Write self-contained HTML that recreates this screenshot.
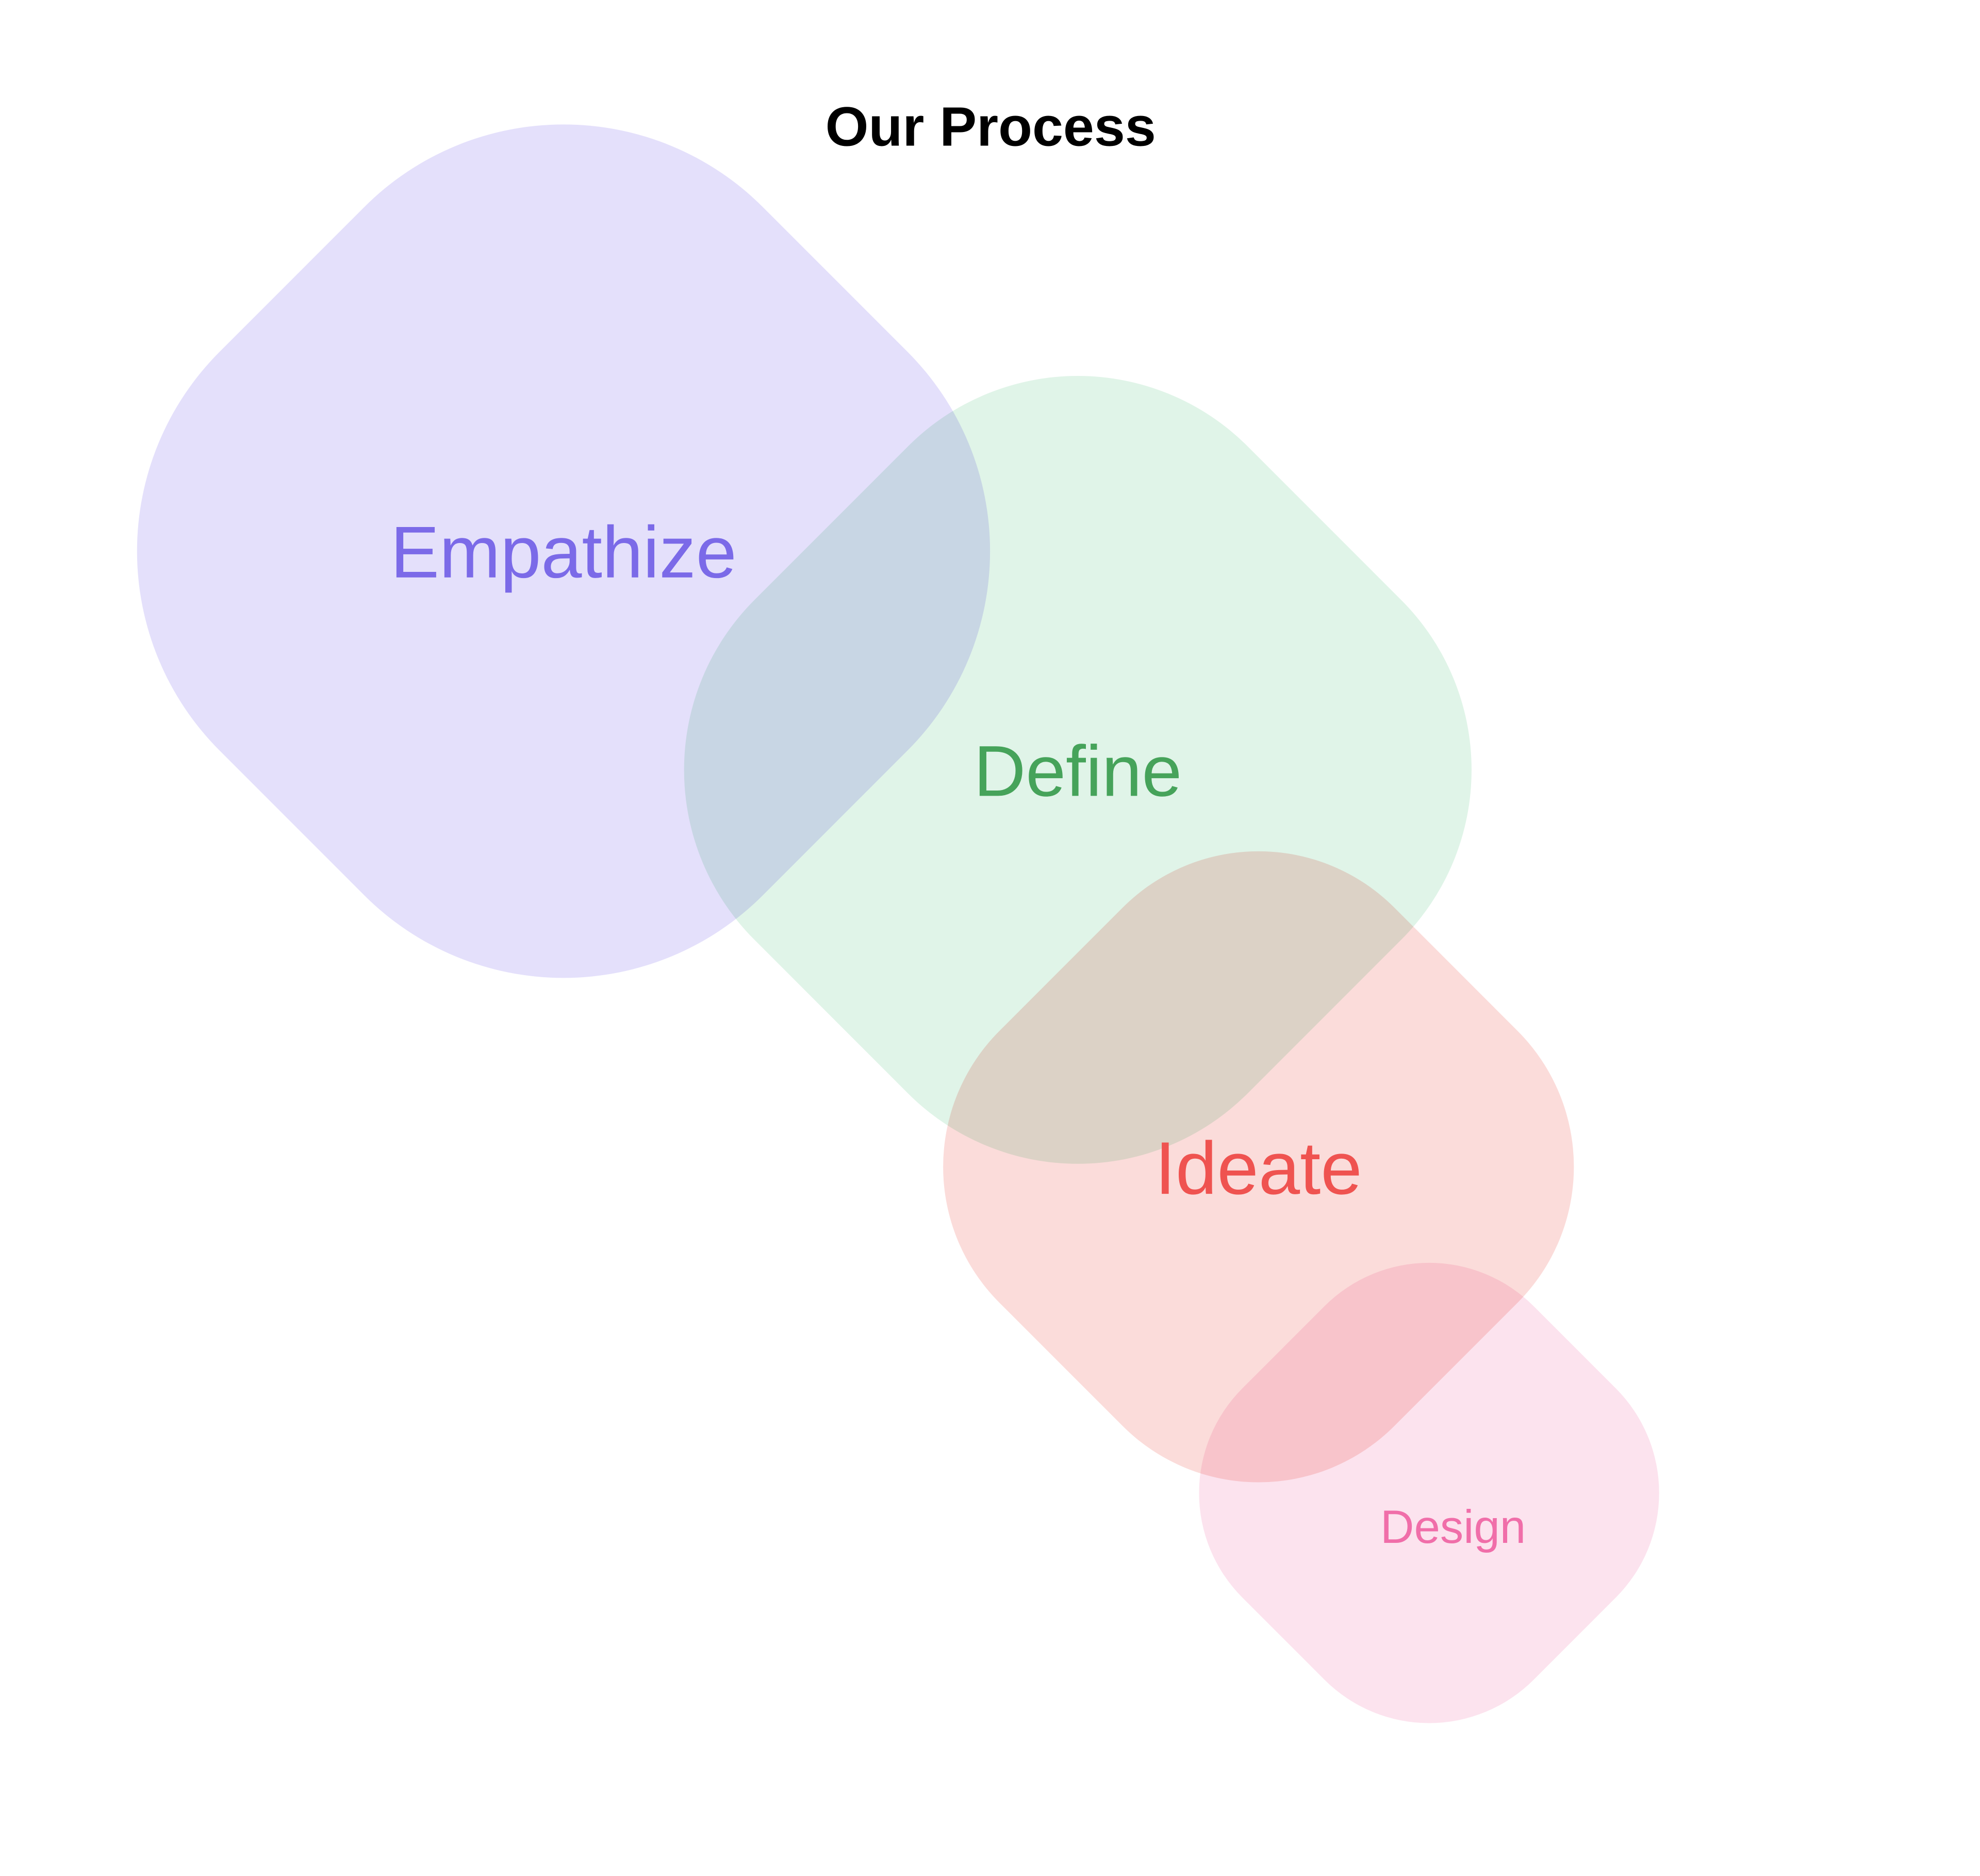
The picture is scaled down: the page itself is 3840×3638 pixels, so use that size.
<!DOCTYPE html>
<html><head><meta charset="utf-8"><style>
html,body{margin:0;padding:0;background:#fff;}
svg{display:block;}
.s{mix-blend-mode:multiply;}
text{font-family:"Liberation Sans",sans-serif;text-anchor:middle;dominant-baseline:central;}
</style></head><body>
<svg width="3840" height="3638" viewBox="0 0 1567 1484" preserveAspectRatio="none" xmlns="http://www.w3.org/2000/svg">
<rect width="1567" height="1484" fill="#fff"/>
<g style="isolation:isolate">
<rect class="s" x="142" y="132" width="608" height="608" rx="223" fill="#e4e0fb" transform="rotate(45 446 436)"/>
<rect class="s" x="577" y="333" width="552" height="552" rx="190" fill="#e0f4e8" transform="rotate(45 853 609)"/>
<rect class="s" x="775" y="702" width="442" height="442" rx="152" fill="#fbdcda" transform="rotate(45 996 923)"/>
<rect class="s" x="968" y="1018" width="326" height="326" rx="117" fill="#fce3ee" transform="rotate(45 1131 1181)"/>
</g>
<text x="784" y="100" font-size="44" font-weight="bold" fill="#000">Our Process</text>
<text x="446" y="437" font-size="58" fill="#7b6ae8">Empathize</text>
<text x="853" y="610" font-size="57" fill="#46a35a">Define</text>
<text x="996" y="924" font-size="59" fill="#ef5350">Ideate</text>
<text x="1150" y="1208" font-size="37" fill="#f06ea9">Design</text>
</svg>
</body></html>
